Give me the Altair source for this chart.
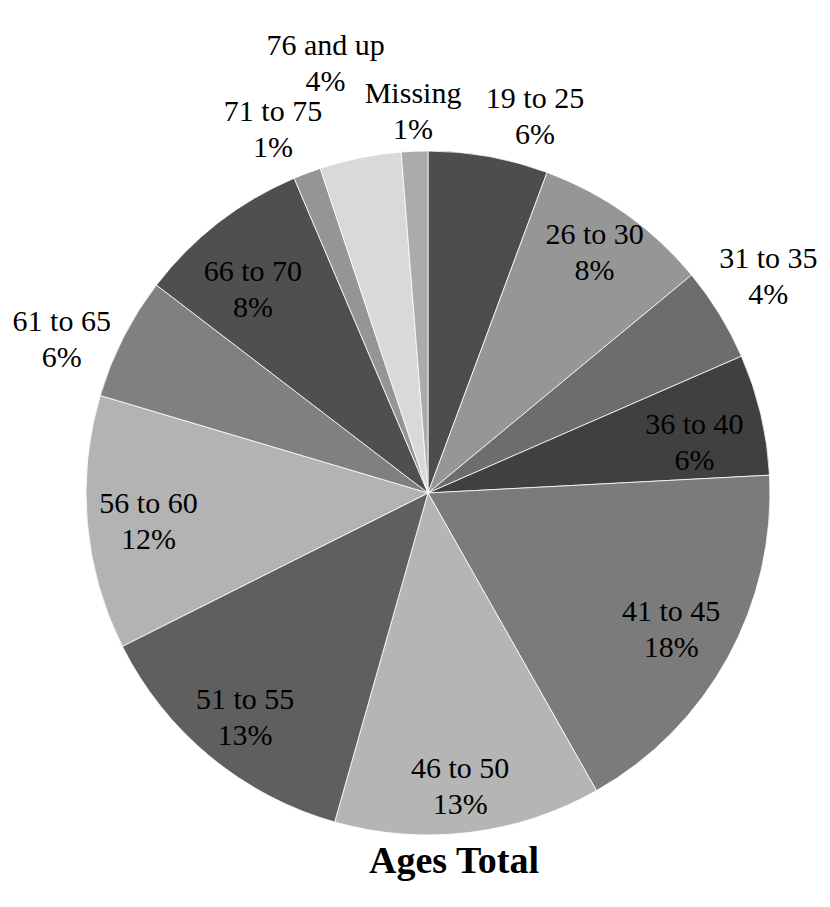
import math
import altair as alt
import pandas as pd

# ---- data ----
categories = ["19 to 25", "26 to 30", "31 to 35", "36 to 40", "41 to 45", "46 to 50",
              "51 to 55", "56 to 60", "61 to 65", "66 to 70", "71 to 75", "76 and up", "Missing"]
shares = [5.66, 8.34, 4.45, 5.72, 17.63, 12.6, 13.2, 12.0, 5.8, 8.2, 1.3, 3.85, 1.25]
grays = ["#4d4d4d", "#969696", "#6d6d6d", "#404040", "#7b7b7b", "#b5b5b5", "#5f5f5f",
         "#b3b3b3", "#808080", "#4f4f4f", "#959595", "#d9d9d9", "#ababab"]
title_text = "Ages Total"

# ---- label layout (style, not data) ----
label_radius = [391, 292, 403, 271, 279, 296, 290, 281, 397, 268, 395, 441, 381]
label_nudge_deg = [5.7, -0.6, -0.8, 2.7, 0.6, 0.6, -0.5, -0.9, -4.3, -3.0, -2.4, -2.0, 0.0]

total = sum(shares)
rows = []
cum = 0.0
for i, (c, v) in enumerate(zip(categories, shares)):
    mid = (cum + v / 2) / total * 2 * math.pi
    cum += v
    rows.append({
        "idx": i,
        "cat": c,
        "value": v,
        "label": f"{c}\n{round(v / total * 100)}%",
        "lt": mid + math.radians(label_nudge_deg[i]),
        "lr": label_radius[i],
    })
df = pd.DataFrame(rows)

CX, CY, R = 420, 485, 342

arcs = alt.Chart(df).mark_arc(outerRadius=R, stroke="white", strokeWidth=0.8).encode(
    theta=alt.Theta("value:Q", stack=True),
    color=alt.Color("cat:N", scale=alt.Scale(domain=categories, range=grays), legend=None),
    order=alt.Order("idx:Q"),
    x=alt.value(CX),
    y=alt.value(CY),
)

labels = alt.Chart(df).mark_text(
    font="Liberation Serif", fontSize=30, lineHeight=36, lineBreak="\n",
    align="center", baseline="middle", color="black", dy=-18,
).encode(
    theta=alt.Theta("lt:Q", scale=None, stack=False),
    radius=alt.Radius("lr:Q", scale=None),
    text="label:N",
    x=alt.value(CX),
    y=alt.value(CY),
)

title = alt.Chart(pd.DataFrame({"t": [title_text]})).mark_text(
    font="Liberation Serif", fontSize=38, fontWeight="bold",
    align="center", baseline="alphabetic", color="black",
).encode(text="t:N", x=alt.value(446), y=alt.value(865))

chart = alt.layer(arcs, labels, title).properties(
    width=814, height=880, padding=0, autosize=alt.AutoSizeParams(type="none"),
).configure_view(stroke=None)

chart.save("out.html", embed_options={"renderer": "svg", "actions": False})
